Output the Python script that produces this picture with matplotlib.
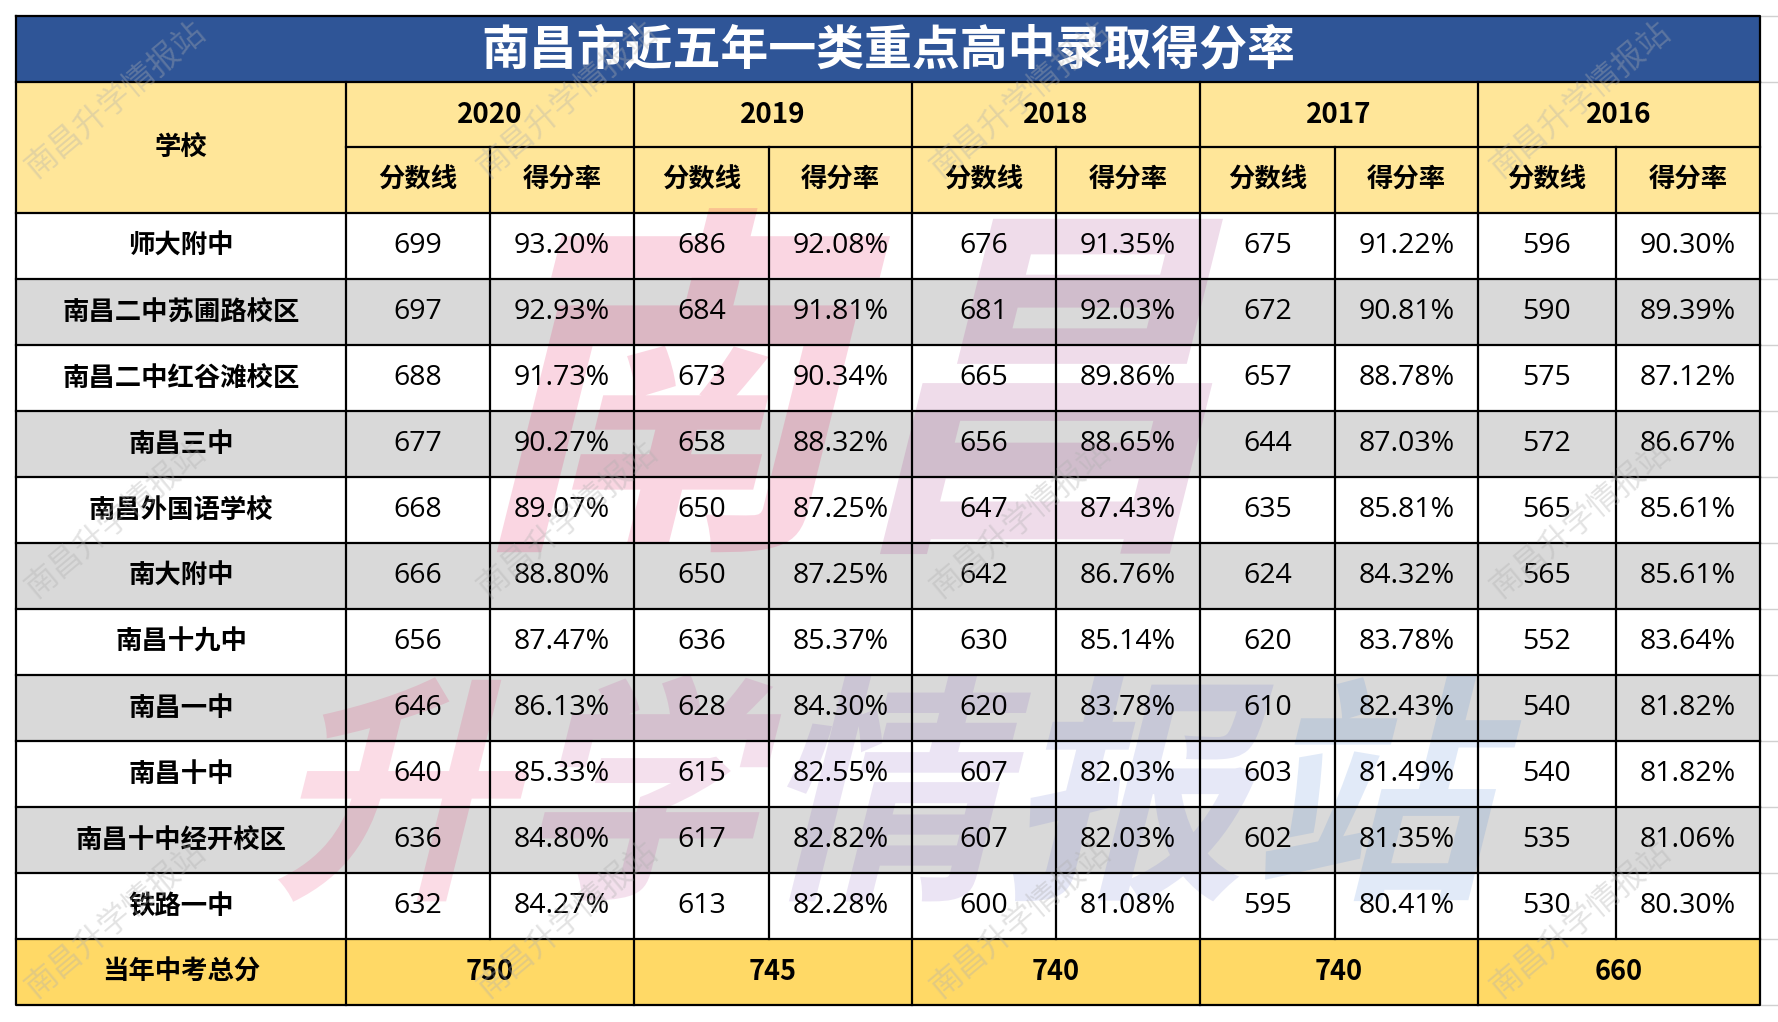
"""
南昌市近五年一类重点高中录取得分率 —— 表格图
"""

import matplotlib

matplotlib.use('Agg')
import matplotlib.pyplot as plt
from matplotlib.patches import Rectangle, PathPatch
from matplotlib.textpath import TextPath
from matplotlib.font_manager import FontProperties
from matplotlib.transforms import Affine2D

# ---- данные ----
title = '南昌市近五年一类重点高中录取得分率'
years = ['2020', '2019', '2018', '2017', '2016']
schools = ['师大附中', '南昌二中苏圃路校区', '南昌二中红谷滩校区', '南昌三中', '南昌外国语学校',
           '南大附中', '南昌十九中', '南昌一中', '南昌十中', '南昌十中经开校区', '铁路一中']
score_2020 = [699, 697, 688, 677, 668, 666, 656, 646, 640, 636, 632]
rate_2020 = ['93.20%', '92.93%', '91.73%', '90.27%', '89.07%', '88.80%', '87.47%', '86.13%', '85.33%', '84.80%', '84.27%']
score_2019 = [686, 684, 673, 658, 650, 650, 636, 628, 615, 617, 613]
rate_2019 = ['92.08%', '91.81%', '90.34%', '88.32%', '87.25%', '87.25%', '85.37%', '84.30%', '82.55%', '82.82%', '82.28%']
score_2018 = [676, 681, 665, 656, 647, 642, 630, 620, 607, 607, 600]
rate_2018 = ['91.35%', '92.03%', '89.86%', '88.65%', '87.43%', '86.76%', '85.14%', '83.78%', '82.03%', '82.03%', '81.08%']
score_2017 = [675, 672, 657, 644, 635, 624, 620, 610, 603, 602, 595]
rate_2017 = ['91.22%', '90.81%', '88.78%', '87.03%', '85.81%', '84.32%', '83.78%', '82.43%', '81.49%', '81.35%', '80.41%']
score_2016 = [596, 590, 575, 572, 565, 565, 552, 540, 540, 535, 530]
rate_2016 = ['90.30%', '89.39%', '87.12%', '86.67%', '85.61%', '85.61%', '83.64%', '81.82%', '81.82%', '81.06%', '80.30%']
total_scores = [750, 745, 740, 740, 660]
total_label = '当年中考总分'
sub_headers = ['分数线', '得分率']

scores = [score_2020, score_2019, score_2018, score_2017, score_2016]
rates = [rate_2020, rate_2019, rate_2018, rate_2017, rate_2016]

# ---- геометрия (пиксели) ----
X0, Y0 = 16, 16
col_w = [330, 144, 144, 135, 143, 144, 144, 135, 143, 138, 144]
title_h = 66
head_h = 65.5
row_h = 66

col_x = [X0]
for w in col_w:
    col_x.append(col_x[-1] + w)
X1 = col_x[-1]

y_title = Y0
y_h1 = y_title + title_h
y_h2 = y_h1 + head_h
y_data = y_h2 + head_h
row_y = [y_data + i * row_h for i in range(len(schools) + 1)]
y_total = row_y[-1]
Y1 = y_total + row_h

BLUE = '#2F5597'
YELLOW = '#FFE699'
GOLD = '#FFD966'
GREY = '#D9D9D9'
CJK = 'Noto Sans CJK SC'
NUM = ['Open Sans', 'DejaVu Sans']

fig = plt.figure(figsize=(17.78, 10.22), dpi=100)
ax = fig.add_axes([0, 0, 1, 1])
ax.set_xlim(0, 1778)
ax.set_ylim(1022, 0)
ax.axis('off')


def cell(x0, y0, x1, y1, color):
    ax.add_patch(Rectangle((x0, y0), x1 - x0, y1 - y0, facecolor=color, edgecolor='none', zorder=1))


# заливка
cell(X0, y_title, X1, y_h1, BLUE)
cell(X0, y_h1, X1, y_data, YELLOW)
for i in range(len(schools)):
    cell(X0, row_y[i], X1, row_y[i + 1], GREY if i % 2 else 'white')
cell(X0, y_total, X1, Y1, GOLD)

# большой водяной знак-логотип
big_font = FontProperties(family=CJK, weight='heavy')


def logo(text, colors, x_left, y_base, size, alpha):
    x = x_left
    for ch, c in zip(text, colors):
        tp = TextPath((0, 0), ch, size=size, prop=big_font)
        tr = Affine2D().skew_deg(14, 0).scale(1, -1).translate(x, y_base)
        ax.add_patch(PathPatch(tr.transform_path(tp), facecolor=c, edgecolor='none',
                               alpha=alpha, zorder=2))
        x += size * 1.02


logo('南昌', ['#E8336F', '#B0509A'], 470, 520, 370, 0.2)
logo('升学情报站', ['#E8336F', '#C04A98', '#8A63C0', '#6F78D0', '#4F86D8'], 270, 880, 240, 0.17)

# мелкие диагональные водяные знаки
wm_x = [115, 567, 1020, 1580]
wm_y = [100, 520, 920]
for wx in wm_x:
    for wy in wm_y:
        ax.text(wx, wy, '南昌升学情报站', fontsize=23, family=CJK, color='#B0B0B0', alpha=0.35,
                rotation=40, ha='center', va='center', zorder=6)

# линии сетки
lw = 1.6
ax.plot([X0, X1, X1, X0, X0], [Y0, Y0, Y1, Y1, Y0], color='black', lw=lw, zorder=4)
for y in [y_h1, y_data] + row_y[1:]:
    ax.plot([X0, X1], [y, y], color='black', lw=lw, zorder=4)
ax.plot([col_x[1], X1], [y_h2, y_h2], color='black', lw=lw, zorder=4)
for j, x in enumerate(col_x[1:-1], start=1):
    if j % 2 == 1:
        ax.plot([x, x], [y_h1, Y1], color='black', lw=lw, zorder=4)
    else:
        ax.plot([x, x], [y_h2, y_total], color='black', lw=lw, zorder=4)
# светлые линии листа справа
for y in [Y0, y_h1, y_data] + row_y[1:] + [Y1]:
    ax.plot([X1, 1778], [y, y], color='#D0D0D0', lw=1, zorder=1)

# тексты
ax.text((X0 + X1) / 2, (y_title + y_h1) / 2 + 1, title, color='white', fontsize=34.5,
        family=CJK, weight='bold', ha='center', va='center', zorder=5)
ax.text((col_x[0] + col_x[1]) / 2, (y_h1 + y_data) / 2, '学校', fontsize=19,
        family=CJK, weight='bold', ha='center', va='center', zorder=5)
for k, yr in enumerate(years):
    xa, xb = col_x[1 + 2 * k], col_x[3 + 2 * k]
    ax.text((xa + xb) / 2, (y_h1 + y_h2) / 2, yr, fontsize=20, family=CJK, weight='bold',
            ha='center', va='center', zorder=5)
    for s, sub in enumerate(sub_headers):
        xc = (col_x[1 + 2 * k + s] + col_x[2 + 2 * k + s]) / 2
        ax.text(xc, (y_h2 + y_data) / 2, sub, fontsize=19, family=CJK, weight='bold',
                ha='center', va='center', zorder=5)
    ax.text((xa + xb) / 2, (y_total + Y1) / 2, str(total_scores[k]), fontsize=19.5,
            family=CJK, weight='bold', ha='center', va='center', zorder=5)

for i, name in enumerate(schools):
    yc = (row_y[i] + row_y[i + 1]) / 2
    ax.text((col_x[0] + col_x[1]) / 2, yc, name, fontsize=19, family=CJK, weight='bold',
            ha='center', va='center', zorder=5)
    for k in range(len(years)):
        xs = (col_x[1 + 2 * k] + col_x[2 + 2 * k]) / 2
        xr = (col_x[2 + 2 * k] + col_x[3 + 2 * k]) / 2
        ax.text(xs, yc, str(scores[k][i]), fontsize=20.5, family=NUM, ha='center', va='center', zorder=5)
        ax.text(xr, yc, rates[k][i], fontsize=20.5, family=NUM, ha='center', va='center', zorder=5)

ax.text((col_x[0] + col_x[1]) / 2, (y_total + Y1) / 2, total_label, fontsize=19,
        family=CJK, weight='bold', ha='center', va='center', zorder=5)

fig.savefig('out.png', dpi=100)
plt.close(fig)
